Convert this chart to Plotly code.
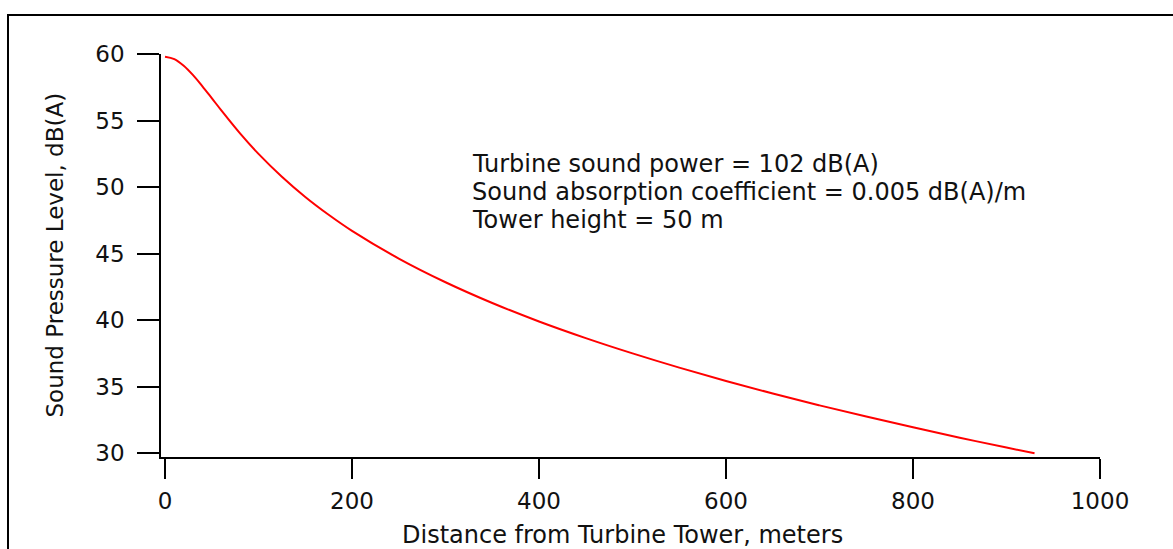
import plotly.graph_objects as go

# Sound pressure level vs. distance from a wind turbine tower
distance_m = [0, 10, 20, 30, 40, 50, 60, 80, 100, 125, 150, 175, 200, 250, 300,
              350, 400, 450, 500, 550, 600, 650, 700, 750, 800, 850, 900, 930]
spl_dba = [59.80, 59.62, 59.12, 58.41, 57.57, 56.68, 55.78, 54.05, 52.49, 50.77,
           49.25, 47.91, 46.70, 44.62, 42.84, 41.28, 39.89, 38.64, 37.49, 36.42,
           35.42, 34.47, 33.58, 32.74, 31.93, 31.15, 30.41, 29.98]

x_ticks = [0, 200, 400, 600, 800, 1000]
y_ticks = [30, 35, 40, 45, 50, 55, 60]

info_lines = [
    "Turbine sound power = 102 dB(A)",
    "Sound absorption coefficient = 0.005 dB(A)/m",
    "Tower height = 50 m",
]

FONT = "DejaVu Sans"
INK = "#111111"

# plot-area geometry in pixels, used to place paper-referenced items
L, R, T, B = 161, 1100, 54, 457
PW, PH = R - L, B - T


def px_x(px):
    return (px - L) / PW


def px_y(py):
    return (B - py) / PH


fig = go.Figure()
fig.add_trace(go.Scatter(
    x=distance_m, y=spl_dba, mode="lines",
    line=dict(color="#ff0000", width=2, shape="spline"),
    hoverinfo="skip", showlegend=False,
))

axis_common = dict(
    showline=True, linecolor="black", linewidth=1.6,
    ticks="outside", tickcolor="black", tickwidth=1.6,
    showgrid=False, zeroline=False,
    tickfont=dict(family=FONT, size=23, color=INK),
)

fig.update_xaxes(range=[-4.3, 1000], tickvals=x_ticks, ticklen=20,
                 ticklabelstandoff=3, **axis_common)
fig.update_yaxes(range=[29.7, 60], tickvals=y_ticks, ticklen=22,
                 ticklabelstandoff=8, **axis_common)

annotations = []
for i, txt in enumerate(info_lines):
    annotations.append(dict(
        xref="paper", yref="paper", x=px_x(470), y=px_y(164 + 28 * i),
        xanchor="left", yanchor="middle", height=28, valign="middle",
        text=txt, showarrow=False,
        font=dict(family=FONT, size=24, color=INK),
    ))

# axis titles
annotations.append(dict(
    xref="paper", yref="paper", x=px_x(622), y=px_y(535),
    xanchor="center", yanchor="middle", height=28, valign="middle",
    text="Distance from Turbine Tower, meters",
    showarrow=False, font=dict(family=FONT, size=24, color=INK),
))
annotations.append(dict(
    xref="paper", yref="paper", x=px_x(54), y=0.5,
    xanchor="center", yanchor="middle", text="Sound Pressure Level, dB(A)",
    textangle=-90, showarrow=False, font=dict(family=FONT, size=23, color=INK),
))

# outer frame (top and left edges visible)
frame_path = "M {x1},{yb} L {x0},{yb} L {x0},{yt} L {x1},{yt}".format(
    x0=px_x(8), x1=px_x(1190), yt=px_y(15), yb=px_y(570),
)
fig.add_shape(type="path", xref="paper", yref="paper", path=frame_path,
              line=dict(color="black", width=2))

fig.update_layout(
    width=1173, height=549,
    margin=dict(l=L, r=1173 - R, t=T, b=549 - B),
    paper_bgcolor="white", plot_bgcolor="white",
    annotations=annotations,
)

fig.write_html("out.html")
